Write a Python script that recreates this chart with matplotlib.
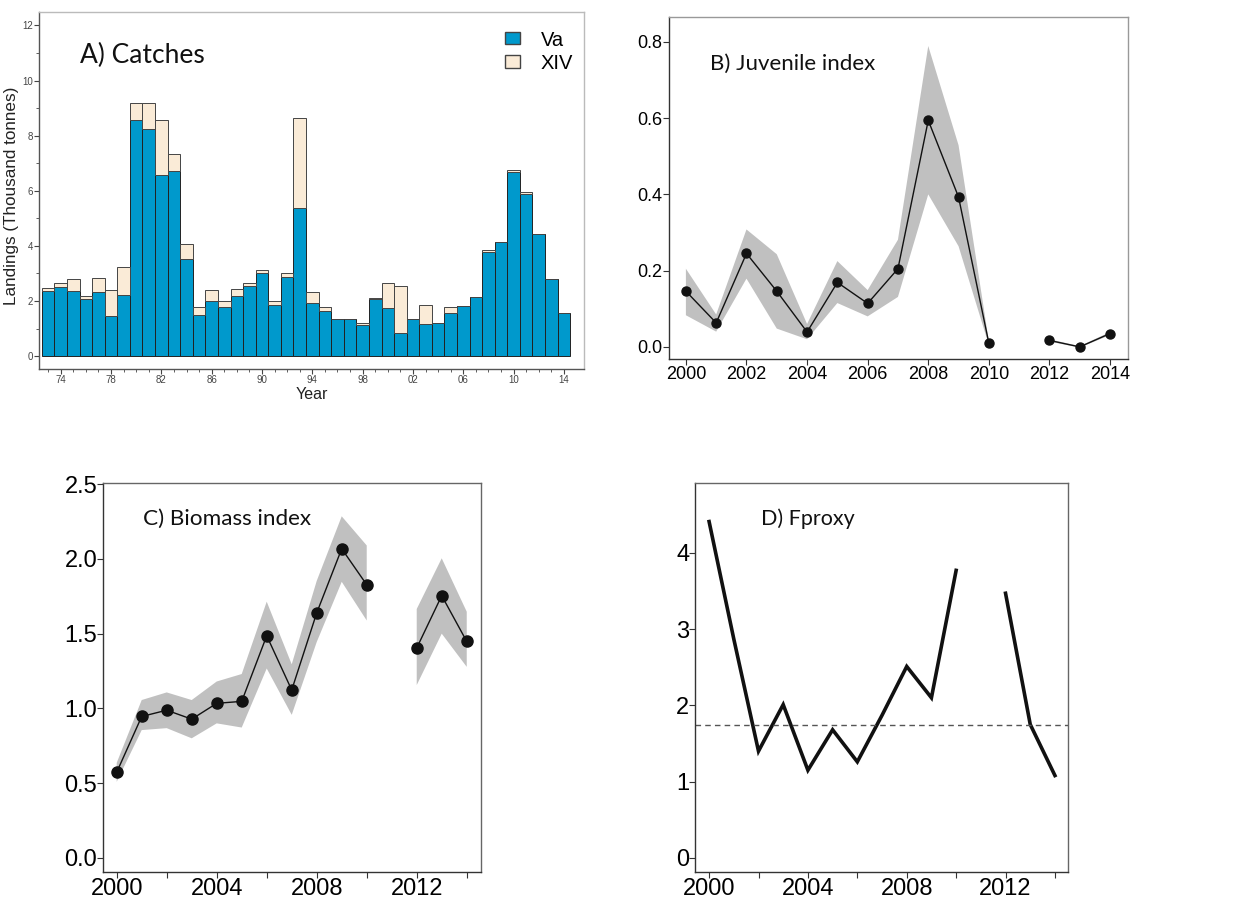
import numpy as np
import matplotlib.pyplot as plt
from matplotlib.patches import Patch

# -----------------------------
# Data
# -----------------------------
catch_years = list(range(1973, 2015))
va = [2.37, 2.52, 2.37, 2.06, 2.32, 1.46, 2.20, 8.56, 8.25, 6.59, 6.71, 3.51,
      1.49, 2.01, 1.77, 2.18, 2.54, 3.00, 1.84, 2.88, 5.36, 1.91, 1.63, 1.33,
      1.33, 1.12, 2.06, 1.73, 0.82, 1.33, 1.16, 1.19, 1.58, 1.83, 2.13, 3.76,
      4.15, 6.69, 5.90, 4.43, 2.78, 1.57]
xiv = [0.11, 0.12, 0.42, 0.13, 0.50, 0.93, 1.05, 0.61, 0.92, 1.97, 0.64, 0.54,
       0.30, 0.37, 0.23, 0.24, 0.10, 0.12, 0.16, 0.12, 3.29, 0.40, 0.16, 0.00,
       0.00, 0.07, 0.03, 0.91, 1.72, 0.02, 0.71, 0.00, 0.19, 0.00, 0.00, 0.09,
       0.00, 0.06, 0.06, 0.00, 0.00, 0.00]

idx_years = list(range(2000, 2015))
nan = np.nan
juv = [0.146, 0.063, 0.245, 0.146, 0.039, 0.169, 0.114, 0.205, 0.594, 0.393,
       0.010, nan, 0.017, 0.000, 0.035]
juv_lo = [0.083, 0.040, 0.179, 0.048, 0.020, 0.115, 0.080, 0.131, 0.400, 0.264,
          0.005, nan, 0.014, -0.002, 0.031]
juv_hi = [0.205, 0.085, 0.308, 0.243, 0.060, 0.225, 0.149, 0.281, 0.789, 0.529,
          0.015, nan, 0.020, 0.002, 0.039]

bio = [0.573, 0.946, 0.988, 0.928, 1.034, 1.047, 1.486, 1.123, 1.639, 2.068,
       1.827, nan, 1.404, 1.754, 1.448]
bio_lo = [0.509, 0.855, 0.868, 0.800, 0.900, 0.872, 1.267, 0.957, 1.444, 1.847,
          1.588, nan, 1.156, 1.500, 1.278]
bio_hi = [0.636, 1.056, 1.107, 1.056, 1.180, 1.230, 1.714, 1.295, 1.853, 2.285,
          2.090, nan, 1.665, 2.004, 1.647]

fproxy = [4.41, 2.87, 1.40, 2.01, 1.15, 1.68, 1.26, 1.87, 2.51, 2.10,
          3.77, nan, 3.47, 1.75, 1.08]
f_ref = 1.744

BLUE = '#0099cc'
CREAM = '#faebd7'
BAND = '#c0c0c0'
TICKFONT = ['Liberation Sans']

fig = plt.figure(figsize=(12.48, 9), dpi=100)

def style_box(ax, dark='#333333', light='#999999'):
    ax.spines['left'].set_color(dark)
    ax.spines['bottom'].set_color(dark)
    ax.spines['top'].set_color(light)
    ax.spines['right'].set_color(light)
    for s in ax.spines.values():
        s.set_linewidth(1.0)

def set_tick_font(ax, family):
    for lab in ax.get_xticklabels() + ax.get_yticklabels():
        lab.set_family(family)

# -----------------------------
# A) Catches
# -----------------------------
axA = fig.add_axes([0.0315, 0.590, 0.4365, 0.397])
axA.bar(catch_years, va, width=1.0, color=BLUE, edgecolor='#222222', linewidth=0.7)
axA.bar(catch_years, xiv, width=1.0, bottom=va, color=CREAM, edgecolor='#444444', linewidth=0.7)
axA.set_xlim(1972.3, 2015.6)
axA.set_ylim(-0.47, 12.5)
axA.set_yticks(range(0, 13, 2))
axA.set_yticks(range(0, 13, 1), minor=True)
axA.set_xticks(range(1974, 2015, 4))
axA.set_xticklabels(['%02d' % (y % 100) for y in range(1974, 2015, 4)])
axA.set_xticks(range(1973, 2015), minor=True)
axA.tick_params(axis='both', which='major', labelsize=7, labelcolor='#444444',
                color='#444444', length=3.5, direction='out', pad=1)
axA.tick_params(axis='both', which='minor', color='#444444', length=2.2, direction='out')
set_tick_font(axA, TICKFONT)
axA.set_ylabel('Landings (Thousand tonnes)', fontsize=12.3, color='#222222', family=TICKFONT)
axA.yaxis.set_label_coords(-0.038, 0.484)
axA.set_xlabel('Year', fontsize=11.5, color='#222222', labelpad=1, family=TICKFONT)
style_box(axA, dark='#555555', light='#bbbbbb')
axA.text(1975.5, 10.63, 'A) Catches', fontsize=19, family='Lato', color='#111111')
handles = [Patch(facecolor=BLUE, edgecolor='#444444', label='Va'),
           Patch(facecolor=CREAM, edgecolor='#444444', label='XIV')]
axA.legend(handles=handles, loc='upper left', frameon=False,
           prop={'family': TICKFONT, 'size': 14.5},
           handlelength=0.75, handleheight=0.55, handletextpad=1.0,
           labelspacing=0.2, borderpad=0.4, bbox_to_anchor=(0.822, 0.998))

# -----------------------------
# B) Juvenile index
# -----------------------------
axB = fig.add_axes([0.536, 0.601, 0.368, 0.3805])
axB.fill_between(idx_years, juv_lo, juv_hi, color=BAND, linewidth=0)
axB.plot(idx_years, juv, color='#111111', linewidth=1.0, marker='o', markersize=6.5)
axB.set_xlim(1999.44, 2014.6)
axB.set_ylim(-0.032, 0.866)
axB.set_xticks(range(2000, 2015, 2))
axB.set_yticks([0.0, 0.2, 0.4, 0.6, 0.8])
axB.yaxis.set_major_formatter(plt.FormatStrFormatter('%.1f'))
axB.tick_params(axis='both', labelsize=13, length=4, direction='out', color='#333333', pad=1)
set_tick_font(axB, TICKFONT)
style_box(axB, dark='#333333', light='#999999')
axB.text(2000.79, 0.726, 'B) Juvenile index', fontsize=16, family='Lato', color='#111111')

# -----------------------------
# C) Biomass index
# -----------------------------
axC = fig.add_axes([0.0823, 0.031, 0.3029, 0.4327])
axC.fill_between(idx_years, bio_lo, bio_hi, color=BAND, linewidth=0)
axC.plot(idx_years, bio, color='#111111', linewidth=1.0, marker='o', markersize=8)
axC.set_xlim(1999.44, 2014.56)
axC.set_ylim(-0.095, 2.51)
axC.set_xticks(range(2000, 2015, 2))
axC.set_xticklabels([str(y) if y % 4 == 0 else '' for y in range(2000, 2015, 2)])
axC.set_yticks([0.0, 0.5, 1.0, 1.5, 2.0, 2.5])
axC.yaxis.set_major_formatter(plt.FormatStrFormatter('%.1f'))
axC.tick_params(axis='both', labelsize=17, length=4, direction='out', color='#333333', pad=0)
set_tick_font(axC, TICKFONT)
style_box(axC, dark='#333333', light='#666666')
axC.text(2001.05, 2.23, 'C) Biomass index', fontsize=16.2, family='Lato', color='#111111')

# -----------------------------
# D) Fproxy
# -----------------------------
axD = fig.add_axes([0.5569, 0.031, 0.2991, 0.4327])
axD.plot(idx_years, fproxy, color='#111111', linewidth=2.6, solid_joinstyle='miter')
axD.axhline(f_ref, color='#555555', linewidth=1.0, linestyle=(0, (4, 3)))
axD.set_xlim(1999.43, 2014.54)
axD.set_ylim(-0.186, 4.92)
axD.set_xticks(range(2000, 2015, 2))
axD.set_xticklabels([str(y) if y % 4 == 0 else '' for y in range(2000, 2015, 2)])
axD.set_yticks([0, 1, 2, 3, 4])
axD.tick_params(axis='both', labelsize=17, length=4, direction='out', color='#333333', pad=0)
set_tick_font(axD, TICKFONT)
style_box(axD, dark='#333333', light='#666666')
axD.text(2002.1, 4.37, 'D) Fproxy', fontsize=15.5, family='Lato', color='#111111')

fig.savefig('out.png', dpi=100)
